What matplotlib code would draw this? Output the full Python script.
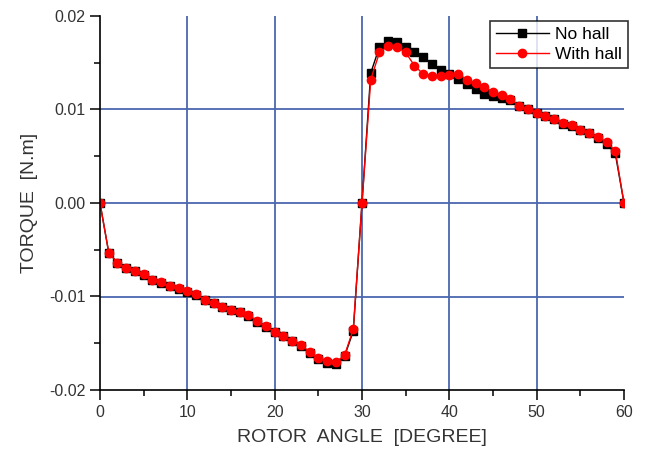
import numpy as np
import matplotlib
matplotlib.use("Agg")
import matplotlib.pyplot as plt
from matplotlib.ticker import MultipleLocator

plt.rcParams['font.family'] = ['Liberation Sans', 'DejaVu Sans']

# rotor angle in degrees (one point per degree)
angle = list(range(0, 61))

# torque without hall sensor [N.m]
no_hall = [0.0, -0.0053, -0.0064, -0.0070, -0.0073, -0.0077, -0.0082, -0.0086, -0.0089, -0.0092,
           -0.0095, -0.0098, -0.0104, -0.0107, -0.0111, -0.0114, -0.0117, -0.0121, -0.0127, -0.0133,
           -0.0138, -0.0142, -0.0148, -0.0153, -0.0160, -0.0167, -0.0171, -0.0172, -0.0164, -0.0137,
           0.0, 0.0139, 0.0167, 0.0173, 0.0172, 0.0167, 0.0162, 0.0156, 0.0149, 0.0142,
           0.0138, 0.0133, 0.0127, 0.0122, 0.0117, 0.0114, 0.0112, 0.0110, 0.0104, 0.0100,
           0.0096, 0.0093, 0.0090, 0.0084, 0.0082, 0.0078, 0.0075, 0.0069, 0.0063, 0.0053,
           0.0]

# torque with hall sensor [N.m]
with_hall = [0.0, -0.0053, -0.0064, -0.0070, -0.0073, -0.0076, -0.0082, -0.0085, -0.0089, -0.0091,
             -0.0094, -0.0097, -0.0104, -0.0107, -0.0111, -0.0114, -0.0117, -0.0120, -0.0126, -0.0132,
             -0.0138, -0.0142, -0.0148, -0.0152, -0.0159, -0.0166, -0.0169, -0.0170, -0.0163, -0.0135,
             0.0, 0.0132, 0.0161, 0.0168, 0.0167, 0.0161, 0.0147, 0.0138, 0.0136, 0.0136,
             0.0137, 0.0138, 0.0132, 0.0128, 0.0124, 0.0119, 0.0116, 0.0111, 0.0104, 0.0100,
             0.0096, 0.0093, 0.0090, 0.0086, 0.0083, 0.0078, 0.0075, 0.0071, 0.0065, 0.0056,
             0.0]

fig = plt.figure(figsize=(6.49, 4.55), dpi=100)
ax = fig.add_axes([100/649, 1 - 390/455, 524/649, 374/455])

# blue grid lines (only the inner ones, like the original)
for gx in [10, 20, 30, 40, 50]:
    ax.axvline(gx, color='#4a67b0', lw=1.3, zorder=0)
for gy in [-0.01, 0.0, 0.01]:
    ax.axhline(gy, color='#4a67b0', lw=1.3, zorder=0)

ax.plot(angle, no_hall, color='black', lw=1, marker='s', ms=5.5, label='No hall')
ax.plot(angle, with_hall, color='red', lw=1, marker='o', ms=6, label='With hall')

ax.set_xlim(0, 60)
ax.set_ylim(-0.02, 0.02)
ax.xaxis.set_major_locator(MultipleLocator(10))
ax.xaxis.set_minor_locator(MultipleLocator(5))
ax.yaxis.set_major_locator(MultipleLocator(0.01))
ax.yaxis.set_minor_locator(MultipleLocator(0.005))
ax.yaxis.set_major_formatter(plt.FuncFormatter(lambda v, p: f"{v:.2f}"))

for s in ['top', 'right']:
    ax.spines[s].set_visible(False)
for s in ['left', 'bottom']:
    ax.spines[s].set_linewidth(1.2)

ax.tick_params(which='major', direction='out', length=7, width=1.1, labelsize=11.5, colors='black',
               labelcolor='#333333')
ax.tick_params(which='minor', direction='out', length=4, width=1.1)

ax.set_xlabel('ROTOR  ANGLE  [DEGREE]', fontsize=14, color='#333333', labelpad=7)
ax.set_ylabel('TORQUE  [N.m]', fontsize=14, color='#333333', labelpad=8)

leg = ax.legend(loc='upper right', bbox_to_anchor=(1.025, 1.01), fontsize=12.5, frameon=True,
                fancybox=False, edgecolor='black', handlelength=3.0, borderpad=0.35,
                labelspacing=0.25, handletextpad=0.4)
leg.get_frame().set_linewidth(1.2)

fig.savefig('out.png', dpi=100)
